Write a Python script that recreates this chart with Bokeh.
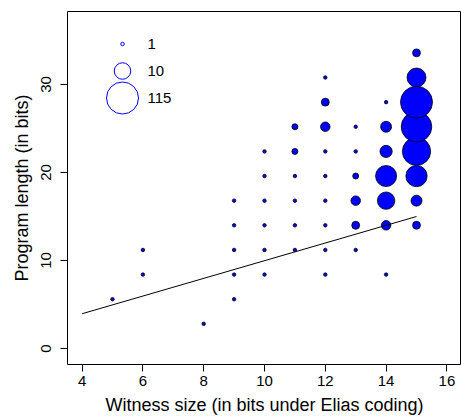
import numpy as np
from bokeh.plotting import figure
from bokeh.models import ColumnDataSource, FixedTicker, Range1d
from bokeh.embed import file_html
from bokeh.resources import INLINE

# ---------------- data ----------------
witness = [5,
           6, 6,
           8,
           9, 9, 9, 9, 9,
           10, 10, 10, 10, 10, 10,
           11, 11, 11, 11, 11, 11,
           12, 12, 12, 12, 12, 12, 12, 12, 12,
           13, 13, 13, 13, 13, 13,
           14, 14, 14, 14, 14, 14, 14,
           15, 15, 15, 15, 15, 15, 15, 15]
program = [5.6,
           8.4, 11.2,
           2.8,
           5.6, 8.4, 11.2, 14.0, 16.8,
           8.4, 11.2, 14.0, 16.8, 19.6, 22.4,
           11.2, 14.0, 16.8, 19.6, 22.4, 25.2,
           8.4, 11.2, 14.0, 16.8, 19.6, 22.4, 25.2, 28.0, 30.8,
           11.2, 14.0, 16.8, 19.6, 22.4, 25.2,
           8.4, 14.0, 16.8, 19.6, 22.4, 25.2, 28.0,
           14.0, 16.8, 19.6, 22.4, 25.2, 28.0, 30.8, 33.6]
counts = [1,
          1, 1,
          1,
          1, 1, 1, 1, 1,
          1, 1, 1, 1, 1, 1,
          1, 1, 1, 1, 2, 2,
          1, 1, 1, 1, 1, 1, 4, 3, 1,
          1, 3, 4, 2, 1, 1,
          1, 4, 13, 29, 6, 5, 1,
          3, 5, 30, 79, 100, 115, 19, 3]

fit_x = [4, 15]
fit_y = [3.95, 15.0]

legend_counts = [1, 10, 115]
legend_labels = ["1", "10", "115"]

x_ticks = [4, 6, 8, 10, 12, 14, 16]
y_ticks = [0, 10, 20, 30]

# ---------------- styling / layout ----------------
KEY_DIAMS = [3.5, 16.5, 32.0]   # marker diameters (px) of the key sizes


def diam(n):
    return np.interp(np.sqrt(np.asarray(n, dtype=float)),
                     np.sqrt(legend_counts), KEY_DIAMS)


FONT = "Liberation Sans"
W, H = 461, 419
ML, MR, MT, MB = 67, 0, 11, 55
X0, X1 = 3.52, 16.48
Y0, Y1 = -1.82, 38.3

p = figure(width=W, height=H, x_range=Range1d(X0, X1), y_range=Range1d(Y0, Y1),
           output_backend="svg", toolbar_location=None,
           min_border_left=ML, min_border_right=MR,
           min_border_top=MT, min_border_bottom=MB)
p.xgrid.visible = False
p.ygrid.visible = False
p.outline_line_color = "black"
p.outline_line_width = 1
p.background_fill_color = "white"
p.border_fill_color = "white"

order = np.argsort(counts, kind="stable")
src = ColumnDataSource(dict(
    x=[witness[i] for i in order],
    y=[program[i] for i in order],
    d=[float(diam(counts[i])) for i in order],
))
p.scatter("x", "y", size="d", source=src, marker="circle",
          fill_color="#0000FF", line_color="black", line_width=0.8)

p.line(fit_x, fit_y, line_color="black", line_width=1)

# key in the upper-left corner, placed in frame pixels
fw = W - ML - MR
fh = H - MT - MB


def px_to_x(px):
    return X0 + (X1 - X0) * px / fw


def py_to_y(py):
    return Y1 - (Y1 - Y0) * py / fh


key_cx = px_to_x(55)
key_tx = px_to_x(80)
key_ys = [py_to_y(v) for v in (32.5, 59.5, 86.5)]
p.scatter([key_cx] * 3, key_ys, size=list(diam(legend_counts)), marker="circle",
          fill_color=None, line_color="#0000FF", line_width=1)
p.text([key_tx] * 3, key_ys, text=legend_labels, text_font_size="15px",
       text_baseline="middle", text_align="left", text_color="black",
       text_font={"value": FONT})

for ax, ticks in ((p.xaxis, x_ticks), (p.yaxis, y_ticks)):
    ax.ticker = FixedTicker(ticks=ticks)
    ax.axis_line_color = None
    ax.major_tick_line_color = "black"
    ax.major_tick_out = 7
    ax.major_tick_in = 0
    ax.minor_tick_out = 0
    ax.minor_tick_in = 0
    ax.major_label_text_font = FONT
    ax.major_label_text_font_size = "15px"
    ax.major_label_text_color = "black"
    ax.axis_label_text_font = FONT
    ax.axis_label_text_font_size = "18px"
    ax.axis_label_text_font_style = "normal"
    ax.axis_label_text_color = "black"

p.xaxis.axis_label = "Witness size (in bits under Elias coding)"
p.xaxis.major_label_standoff = 4
p.xaxis.axis_label_standoff = 6
p.yaxis.axis_label = "Program length (in bits)"
p.yaxis.major_label_orientation = "vertical"
p.yaxis.major_label_standoff = 9
p.yaxis.axis_label_standoff = 7

open("out.html", "w").write(file_html(p, INLINE))
